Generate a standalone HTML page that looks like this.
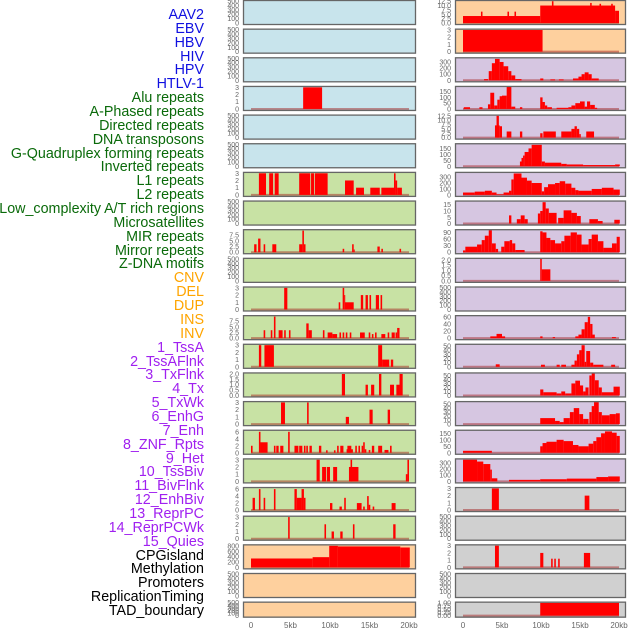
<!DOCTYPE html>
<html><head><meta charset="utf-8"><style>
html,body{margin:0;padding:0;background:#fff;width:630px;height:630px;overflow:hidden}
#labels{position:absolute;left:0;top:0;width:204px;height:630px}
.lab{position:absolute;right:0;font-family:"Liberation Sans",sans-serif;font-size:14.3px;line-height:14px;white-space:nowrap;text-align:right}
svg{position:absolute;left:0;top:0}
</style></head><body>
<div id="labels"></div>
<svg id="chart" width="630" height="630"></svg>
<script>
const trackNames = ["AAV2","EBV","HBV","HIV","HPV","HTLV-1","Alu repeats","A-Phased repeats","Directed repeats","DNA transposons","G-Quadruplex forming repeats","Inverted repeats","L1 repeats","L2 repeats","Low_complexity A/T rich regions","Microsatellites","MIR repeats","Mirror repeats","Z-DNA motifs","CNV","DEL","DUP","INS","INV","1_TssA","2_TssAFlnk","3_TxFlnk","4_Tx","5_TxWk","6_EnhG","7_Enh","8_ZNF_Rpts","9_Het","10_TssBiv","11_BivFlnk","12_EnhBiv","13_ReprPC","14_ReprPCWk","15_Quies","CPGisland","Methylation","Promoters","ReplicationTiming","TAD_boundary"];
const trackGroups = [6,13,5,15,5];
const groupColors = ["#1010e0","#0a6a0a","#ffa500","#a020f0","#000000"];

const xTickLabels = ["0","5kb","10kb","15kb","20kb"];
const xTickValues = [0,5,10,15,20];

const T500 = ["0","100","200","300","400","500"];
const T3 = ["0","1","2","3"];
const T75 = ["0.0","2.5","5.0","7.5"];
const T125 = ["0.0","2.5","5.0","7.5","10.0","12.5"];
const T2 = ["0.0","0.5","1.0","1.5","2.0"];
const T6 = ["0","2","4","6"];

const leftBg = ["#c8e4ec","#c8e4ec","#c8e4ec","#c8e4ec","#c8e4ec","#c8e4ec","#c8e2a4","#c8e2a4","#c8e2a4","#c8e2a4","#c8e2a4","#c8e2a4","#c8e2a4","#c8e2a4","#c8e2a4","#c8e2a4","#c8e2a4","#c8e2a4","#c8e2a4","#fed09e","#fed09e","#fed09e"];
const leftTicks = [T500,T500,T500,T3,T500,T500,T3,T500,T75,T500,T3,T75,T3,T2,T3,T6,T3,T6,T3,["0","200","400","600","800"],T500,T500];
const leftMax = [500,500,500,3.05,500,500,3.05,500,9.7,500,3.05,9.7,3.05,2.05,3.05,6.3,3.05,6.3,3.05,820,500,500];
const leftSeries = [
 [],[],[],
 [[6.6,9.0,3]],
 [],[],
 [[1.0,1.9,3],[2.3,2.8,3],[3.0,3.5,3],[6.1,7.5,3],[7.6,8.0,3],[8.1,9.7,3],[11.9,13.0,2],[13.3,14.3,1],[15.1,16.3,1],[16.5,18.1,1],[18.1,18.3,3],[18.3,18.5,2],[18.5,19.1,1]],
 [],
 [[0.4,0.7,3.5],[0.9,1.2,6],[1.6,1.8,3.5],[2.7,3.2,3.5],[6.1,6.5,3.5],[6.5,6.7,9.5],[6.7,6.9,3.5],[11.6,11.8,1.5],[12.8,13.0,3.5],[13.0,13.1,1.2],[16.0,16.3,2.5],[16.5,16.7,1.5],[18.8,19.0,1.5]],
 [],
 [[4.2,4.6,3],[11.1,11.3,1],[11.6,11.8,3],[11.8,11.9,2],[11.9,13.0,1],[13.9,14.2,2],[14.5,14.8,2],[15.0,15.2,2],[15.8,16.2,2],[16.4,16.6,2]],
 [[1.6,1.8,3.5],[2.5,2.7,3.5],[2.9,3.1,9.5],[3.5,4.0,3.5],[4.2,4.4,3.5],[4.8,5.0,3.5],[7.0,7.3,6.5],[7.3,7.7,3.5],[9.1,9.3,3.5],[9.7,10.3,2.5],[10.3,10.9,1.8],[11.2,11.4,2.5],[11.6,11.8,2.5],[12.0,12.2,2.5],[12.5,12.7,2.5],[13.8,14.4,2.5],[14.9,15.1,2.5],[15.3,15.5,1.8],[15.7,15.9,2.5],[16.5,17.0,1.8],[17.3,17.5,2.5],[17.8,18.2,2.5],[18.3,18.5,2.5],[18.5,18.8,4.5]],
 [[1.0,1.3,3],[1.7,2.9,3],[16.1,16.6,3],[16.6,17.5,1],[17.7,18.0,1]],
 [[11.5,11.9,2],[14.5,14.8,1],[15.2,15.6,1],[16.2,16.5,2],[17.6,18.1,1],[18.4,18.8,1],[18.8,19.2,2]],
 [[3.8,4.3,3],[7.1,7.3,3],[12.0,12.4,1],[15.0,15.4,2],[17.3,17.6,2]],
 [[0.0,0.2,2],[1.0,1.2,6],[1.2,2.1,3],[2.9,3.1,2],[3.2,3.5,2],[3.7,4.1,2],[4.7,4.9,6],[5.5,6.0,2],[6.1,6.5,2],[6.7,6.9,2],[7.0,7.2,2],[7.4,7.7,2],[8.6,8.9,2],[9.5,9.7,0.7],[10.5,10.7,0.7],[10.9,11.1,2],[11.3,11.7,2],[12.2,12.7,2],[12.1,12.9,1],[13.2,13.4,2],[13.6,13.8,2],[14.0,14.2,2],[14.2,14.4,3],[14.4,14.6,1],[14.9,15.1,0.8],[15.3,15.6,2],[16.1,16.6,2],[16.9,17.4,0.8],[17.6,17.8,2]],
 [[8.3,8.7,3],[9.0,9.5,2],[9.6,10.0,2],[10.4,10.9,2],[12.4,13.6,2],[12.6,12.8,3],[19.6,19.8,1],[19.8,20.0,3]],
 [[0.2,0.5,3.5],[1.0,1.2,6],[1.6,1.8,3.5],[2.9,3.1,6],[5.5,5.8,6],[5.8,6.4,3.5],[6.4,6.7,6],[6.7,6.9,3.5],[10.0,10.3,2],[11.2,11.5,1],[11.8,12.0,3.5],[13.4,14.0,2],[14.2,14.4,1],[14.7,14.9,4],[14.9,15.1,1.5],[15.4,15.6,1],[17.8,18.3,2]],
 [[4.7,4.9,3],[9.3,9.5,2],[10.2,10.5,1],[11.3,11.6,1],[12.9,13.1,2],[18.0,18.3,2]],
 [[0,7.8,330],[7.8,9.9,380],[9.9,11.0,800],[11.0,18.9,780],[18.9,20.1,740]],
 [],[]
];

const rightBg = ["#fed09e","#fed09e","#d6c6e1","#d6c6e1","#d6c6e1","#d6c6e1","#d6c6e1","#d6c6e1","#d6c6e1","#d6c6e1","#d6c6e1","#d6c6e1","#d6c6e1","#d6c6e1","#d6c6e1","#d6c6e1","#d6c6e1","#d0d0d0","#d0d0d0","#d0d0d0","#d0d0d0","#d0d0d0"];
const rightTicks = [T125,T3,["0","100","200","300"],["0","50","100","150"],T125,["0","50","100","150"],["0","100","200","300"],["0","5","10","15"],["0","30","60","90"],T2,T500,["0","20","40","60"],["0","10","20","30","40","50"],["0","10","20","30","40","50"],["0","10","20","30","40","50"],["0","50","100","150"],["0","100","200","300"],T3,T500,T3,T500,["0.00","0.25","0.50","0.75","1.00"]];
const rightMax = [12.6,3.05,360,190,12.6,185,370,17.5,100,2.1,500,62,53,55,55,170,355,3.05,500,3.05,500,1.02];
const rightSeries = [
 [[0,9.9,4],[9.9,19.5,10],[19.5,20.0,7],[2.3,2.5,6.5],[5.7,5.9,6.5],[6.6,6.8,6.5],[11.4,11.6,12.5],[16.3,16.5,11.5],[17.5,17.7,11],[19.0,19.2,11]],
 [[0,10.2,3]],
 [[2.7,3.2,20],[3.3,3.7,150],[3.7,4.1,280],[4.1,4.7,350],[4.7,5.2,300],[5.2,5.8,230],[5.8,6.2,150],[6.2,6.7,80],[6.7,7.5,20],[9.9,10.3,30],[11.2,11.8,15],[12.3,12.9,15],[14.1,14.8,30],[14.8,15.2,60],[15.2,15.6,100],[15.6,16.1,130],[16.1,16.5,100],[16.5,17.4,30]],
 [[0.1,0.9,15],[2.1,2.5,15],[3.2,3.5,40],[3.5,4.0,140],[4.0,4.4,30],[4.4,4.7,80],[4.7,5.0,110],[5.0,5.6,115],[5.6,6.2,190],[6.2,6.7,20],[7.3,7.6,15],[9.9,10.2,100],[10.2,10.5,60],[10.5,10.8,30],[10.8,11.4,15],[12.0,13.5,10],[13.5,13.9,15],[13.9,14.4,30],[14.4,15.0,50],[15.0,15.6,65],[15.6,15.9,20],[15.9,16.3,65],[16.3,16.9,35],[16.9,17.2,10]],
 [[4.1,4.7,7],[4.3,4.6,12.5],[4.7,5.0,6.5],[5.6,6.2,3.5],[7.3,7.6,3.5],[9.9,10.2,2.5],[10.3,11.9,3.5],[12.6,13.9,3.5],[13.9,14.3,5],[14.3,14.6,6.5],[14.6,14.9,5],[14.9,15.1,2],[15.8,16.8,3.5]],
 [[7.3,7.5,40],[7.5,7.7,70],[7.7,7.9,90],[7.9,8.4,120],[8.4,8.8,150],[8.8,10.1,180],[10.1,10.5,40],[10.5,12.6,30],[12.6,13.3,20],[13.3,15.4,15],[15.4,19.5,10],[19.5,20.1,15]],
 [[0,1.5,40],[1.5,2.8,55],[2.8,3.7,70],[3.7,4.3,40],[4.3,5.2,10],[5.2,5.9,40],[5.9,6.2,70],[6.2,6.5,260],[6.5,7.5,360],[7.5,8.2,290],[8.2,8.8,240],[8.8,10.1,200],[10.1,10.4,60],[10.4,10.9,130],[10.9,11.8,180],[11.8,12.4,200],[12.4,13.1,230],[13.1,13.9,190],[13.9,14.4,120],[14.4,14.8,80],[14.8,16.5,70],[16.5,17.8,100],[17.8,19.3,120],[19.3,20.1,90]],
 [[5.9,6.2,6.5],[6.9,7.4,3.5],[7.4,7.9,6.5],[7.9,8.3,3.5],[9.6,9.9,8],[9.9,10.2,10],[10.2,10.6,17],[10.6,11.0,12],[11.0,12.0,8.5],[12.2,12.9,4.5],[12.9,13.9,10.5],[13.9,14.6,8.5],[14.6,15.1,6],[16.2,17.3,3.5],[17.3,17.9,2],[19.4,20.1,3]],
 [[0,0.3,8],[0.3,1.8,25],[1.8,2.4,35],[2.4,2.8,55],[2.8,3.3,75],[3.3,3.7,100],[3.7,4.2,40],[4.2,4.5,15],[4.9,5.3,25],[5.3,6.0,50],[6.0,6.3,55],[6.3,6.7,40],[6.7,7.9,10],[9.9,10.2,95],[10.2,10.7,90],[10.7,11.2,65],[11.2,11.8,55],[11.8,12.6,40],[12.6,13.0,50],[13.0,13.8,75],[13.8,14.6,90],[14.6,15.2,80],[15.2,16.1,35],[16.1,16.5,60],[16.5,17.3,80],[17.3,18.0,50],[18.0,19.1,20],[19.1,19.7,40],[19.7,20.1,70]],
 [[9.9,10.1,2.1],[10.1,11.2,1.1]],
 [],
 [[3.5,4.3,5],[4.3,5.0,12],[5.0,5.4,5],[9.9,10.2,5],[11.5,11.8,3],[14.4,14.8,5],[14.8,15.2,10],[15.2,15.6,25],[15.6,16.0,45],[16.0,16.3,60],[16.3,16.6,40],[16.6,16.9,10],[19.1,19.6,3]],
 [[4.2,4.7,6],[10.0,10.5,5],[12.0,12.4,5],[12.6,13.2,5],[13.9,14.3,5],[14.3,14.6,15],[14.6,14.9,30],[14.9,15.2,40],[15.2,15.6,52],[15.6,15.8,12],[15.8,16.3,38],[16.3,16.7,10],[16.7,18.0,5],[19.0,19.5,5]],
 [[9.9,10.3,15],[10.3,12.0,8],[12.0,12.6,5],[12.6,13.1,10],[13.1,13.9,5],[13.9,14.4,30],[14.4,15.0,37],[15.0,15.4,25],[15.4,15.7,10],[15.7,16.1,20],[16.2,16.5,50],[16.5,16.9,55],[16.9,17.4,38],[17.4,17.8,20],[17.8,19.3,8],[19.3,20.1,22]],
 [[9.9,11.8,15],[11.8,12.4,8],[12.4,12.9,5],[12.9,13.7,15],[13.7,14.2,30],[14.2,14.9,40],[14.9,15.4,25],[15.4,16.1,13],[16.2,16.5,30],[16.5,16.8,45],[16.8,17.4,55],[17.4,17.8,30],[17.8,18.8,22],[18.8,19.6,25],[19.6,20.1,27]],
 [[0,3.7,15],[9.9,10.2,50],[10.2,10.7,75],[10.7,12.0,85],[12.0,12.9,100],[12.9,14.1,90],[14.1,14.8,60],[14.8,16.1,50],[16.1,16.7,70],[16.7,17.1,90],[17.1,17.7,120],[17.7,18.2,150],[18.2,19.1,165],[19.1,19.7,155],[19.7,20.1,130]],
 [[0,1.8,350],[1.8,2.6,320],[2.6,3.5,280],[3.5,3.7,190],[3.7,4.4,50],[5.9,9.9,25],[9.9,13.3,35],[13.3,17.1,45],[17.1,18.6,70],[18.6,20.1,80]],
 [[3.7,4.6,3],[15.6,16.2,2]],
 [],
 [[4.1,4.6,3],[9.9,10.3,2],[11.3,11.5,1.2],[11.7,11.9,1.2],[12.2,12.4,1.2],[15.5,16.3,2]],
 [],
 [[9.9,20.0,1]]
];

// labels
const labDiv = document.getElementById('labels');
let gi = 0, cnt = 0;
trackNames.forEach((n, i) => {
  while (cnt >= trackGroups[gi]) { cnt = 0; gi++; }
  cnt++;
  const d = document.createElement('div');
  d.className = 'lab';
  d.textContent = n;
  d.style.top = (15 + i * 13.86 - 7) + 'px';
  d.style.color = groupColors[gi];
  
  
  labDiv.appendChild(d);
});

const NS = 'http://www.w3.org/2000/svg';
const svg = document.getElementById('chart');
function mk(tag, attrs, parent) {
  const e = document.createElementNS(NS, tag);
  for (const k in attrs) e.setAttribute(k, attrs[k]);
  (parent || svg).appendChild(e);
  return e;
}
const cols = [
  {x0: 243, x1: 416, k0: 251, k20: 409, bg: leftBg, ticks: leftTicks, max: leftMax, series: leftSeries, side: 'left'},
  {x0: 455, x1: 626, k0: 463, k20: 619, bg: rightBg, ticks: rightTicks, max: rightMax, series: rightSeries, side: 'right'}
];
cols.forEach(c => {
  const xs = kb => c.k0 + (c.k20 - c.k0) * kb / 20;
  for (let i = 0; i < 22; i++) {
    const top = i * 28.65;
    const h = i < 21 ? 25 : 16;
    const bot = top + h;
    const ys = v => (bot - 2) - (bot - 2 - (top + 1)) * v / c.max[i];
    const g = mk('g', {});
    
    
    mk('rect', {x: c.x0, y: top, width: c.x1 - c.x0, height: h, fill: c.bg[i]}, g);
    const ser = c.series[i];
    if (ser.length) {
      mk('line', {x1: xs(0), x2: xs(20), y1: ys(0), y2: ys(0), stroke: 'rgba(160,20,20,0.45)', 'stroke-width': 2}, g);
    }
    ser.forEach(s => {
      const r = mk('rect', {x: xs(s[0]), y: ys(s[2]), width: Math.max(1, xs(s[1]) - xs(s[0])), height: ys(0) - ys(s[2]), fill: '#ff0000'}, g);
      
      
    });
    mk('rect', {x: c.x0 + 0.5, y: top + 0.5, width: c.x1 - c.x0 - 1, height: h - 1, fill: 'none', stroke: '#666', 'stroke-width': 1.3}, g);
    const tk = c.ticks[i];
    tk.forEach((t, j) => {
      const v = parseFloat(t);
      const y = ys(v);
      const tx = mk('text', {x: c.x0 - 4, y: y + 2.5, 'text-anchor': 'end', 'font-size': 7, fill: '#666', 'font-family': 'Liberation Sans, sans-serif'}, g);
      tx.textContent = t;
      
      
    });
  }
  xTickValues.forEach((v, j) => {
    const t = mk('text', {x: xs(v), y: 628, 'text-anchor': 'middle', 'font-size': 8, fill: '#666', 'font-family': 'Liberation Sans, sans-serif'});
    t.textContent = xTickLabels[j];
    
    
  });
});
</script>
</body></html>
